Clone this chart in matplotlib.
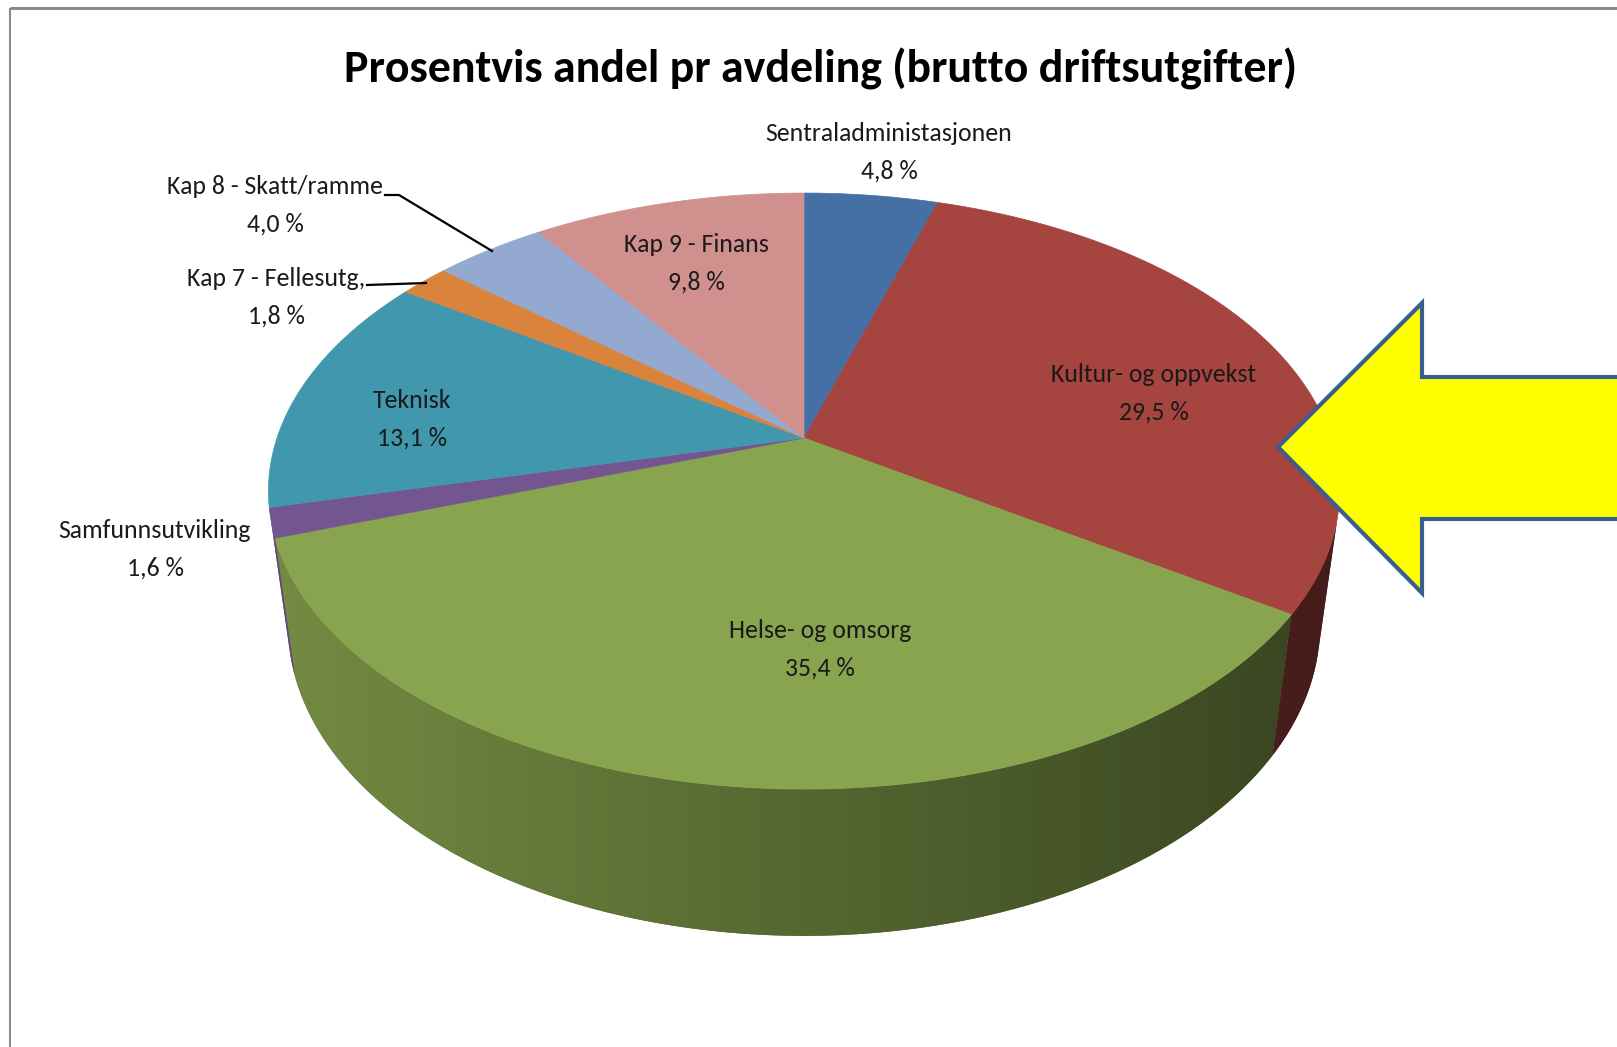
import numpy as np
import matplotlib
matplotlib.use('Agg')
import matplotlib.pyplot as plt
from matplotlib.patches import Polygon

categories = ["Sentraladministasjonen", "Kultur- og oppvekst", "Helse- og omsorg",
              "Samfunnsutvikling", "Teknisk", "Kap 7 - Fellesutg.",
              "Kap 8 - Skatt/ramme", "Kap 9 - Finans"]
values = [4.8, 29.5, 35.4, 1.6, 13.1, 1.8, 4.0, 9.8]
colors = ["#4470A6", "#A64440", "#88A44E", "#73568F", "#4197AE", "#D9833C",
          "#93A9D0", "#CF908E"]
title = "Prosentvis andel pr avdeling (brutto driftsutgifter)"

FONT = ['Carlito', 'IBM Plex Sans Condensed', 'DejaVu Sans']
plt.rcParams['font.family'] = FONT

W, H = 1617, 1047
fig = plt.figure(figsize=(W / 100, H / 100), dpi=100)
ax = fig.add_axes([0, 0, 1, 1])
ax.set_xlim(0, W)
ax.set_ylim(H, 0)
ax.axis('off')

# perspective projection of a disk
phi = np.radians(33.2)
L = 4.70
S = 527
CX, CY = 804, 438
T = 0.315


def proj(x, y, z):
    v = y * np.sin(phi) + z * np.cos(phi)
    w = L + y * np.cos(phi) - z * np.sin(phi)
    return CX + S * x * L / w, CY - S * v * L / w


def shade(x):
    return 0.63 - 0.22 * (x - CX) / 535.0


vals = np.array(values, dtype=float)
frac = vals / vals.sum()
cum = np.concatenate([[0], np.cumsum(frac)])
a_start = np.radians(90 - 360 * cum[:-1])
a_end = np.radians(90 - 360 * cum[1:])

# walls (visible outer side), filled with a horizontal shading gradient
vis_lim = -1.0 / (L * np.cos(phi))
for i in range(len(values)):
    n = max(8, int(abs(np.degrees(a_end[i] - a_start[i])) * 4))
    aa = np.linspace(a_start[i], a_end[i], n + 1)
    aa = aa[np.sin(aa) < vis_lim]
    if len(aa) < 2:
        continue
    top = [proj(np.cos(a), np.sin(a), 0) for a in aa]
    bot = [proj(np.cos(a), np.sin(a), -T) for a in aa[::-1]]
    pts = np.array(top + bot)
    base = np.array(matplotlib.colors.to_rgb(colors[i]))
    x0, x1 = pts[:, 0].min() - 2, pts[:, 0].max() + 2
    y0, y1 = pts[:, 1].min() - 2, pts[:, 1].max() + 2
    xs = np.linspace(x0, x1, 400)
    img = np.clip(base[None, None, :] * shade(xs)[None, :, None], 0, 1)
    mid = base * shade(0.5 * (x0 + x1))
    poly = Polygon(pts, closed=True, fc=np.clip(mid, 0, 1), ec='none', zorder=1)
    ax.add_patch(poly)
    im = ax.imshow(img, extent=(x0, x1, y1, y0), aspect='auto', interpolation='bilinear',
                   zorder=1.1)
    im.set_clip_path(poly)

# top faces
for i in range(len(values)):
    n = max(4, int(abs(np.degrees(a_end[i] - a_start[i])) * 2))
    aa = np.linspace(a_start[i], a_end[i], n + 1)
    pts = [proj(0, 0, 0)] + [proj(np.cos(a), np.sin(a), 0) for a in aa]
    ax.add_patch(Polygon(pts, closed=True, fc=colors[i], ec=colors[i], lw=0.5, zorder=2))

ax.set_xlim(0, W)
ax.set_ylim(H, 0)

# labels
label_pos = [(889, 152), (1154, 393), (820, 649), (155, 549), (412, 419),
             (276, 297), (275, 205), (696, 263)]
for i, (x, y) in enumerate(label_pos):
    txt = f"{categories[i]}\n{values[i]:.1f} %".replace('.', ',')
    ax.text(x, y, txt, ha='center', va='center', fontsize=18.5, color='#1a1a1a',
            linespacing=1.75, zorder=5)

# leader lines
ax.plot([367, 426], [285, 283], color='black', lw=1.6, zorder=4)
ax.plot([385, 399, 492], [195, 195, 251], color='black', lw=1.6, zorder=4)

# title
ax.text(820, 69, title, ha='center', va='center', fontsize=33, fontweight='bold',
        color='black', zorder=5)

# arrow callout
arrow = Polygon([(1278, 447), (1422, 303), (1422, 377), (1660, 377), (1660, 519),
                 (1422, 519), (1422, 593)], closed=True, fc='#FFFF00', ec='#3B5F8C',
                lw=3, joinstyle='miter', zorder=6)
ax.add_patch(arrow)

# frame
ax.plot([10, W], [8, 8], color='#8a8a8a', lw=2.2, zorder=7, solid_capstyle='butt')
ax.plot([10, 10], [8, H], color='#8a8a8a', lw=1.5, zorder=7, solid_capstyle='butt')

fig.savefig('out.png', dpi=100)
